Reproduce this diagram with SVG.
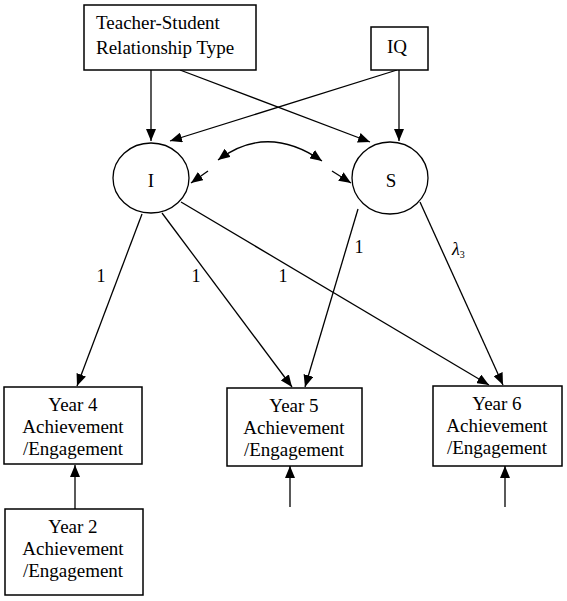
<svg xmlns="http://www.w3.org/2000/svg" width="567" height="601" viewBox="0 0 567 601">
<defs>
<marker id="ah" viewBox="0 0 12 10" refX="12" refY="5" markerWidth="12" markerHeight="10" markerUnits="userSpaceOnUse" orient="auto-start-reverse">
<path d="M0,0 L12,5 L0,10 Z" fill="#000"/>
</marker>
<style>
.box{fill:#fff;stroke:#000;stroke-width:1.5}
.lat{fill:#fff;stroke:#000;stroke-width:1.3}
.t{font-family:"Liberation Serif","Times New Roman",serif;font-size:19px;fill:#000}
.c{text-anchor:middle}
.l{font-family:"Liberation Serif","Times New Roman",serif;font-size:18px;fill:#000}
.e{fill:none;stroke:#000;stroke-width:1.3;marker-end:url(#ah)}
</style>
</defs>
<rect width="567" height="601" fill="#fff"/>
<g id="connectors">
<line class="e" x1="151" y1="70" x2="151" y2="141"/>
<line class="e" x1="180" y1="70" x2="370" y2="142"/>
<line class="e" x1="397" y1="70" x2="170" y2="141"/>
<line class="e" x1="399" y1="70" x2="399" y2="141"/>
<path class="e" d="M218,160 Q267,123 322,161" marker-start="url(#ah)"/>
<line class="e" x1="208" y1="171" x2="191" y2="183"/>
<line class="e" x1="332" y1="171" x2="351" y2="183"/>
<line class="e" x1="142" y1="214" x2="77" y2="386"/>
<line class="e" x1="162" y1="213" x2="292" y2="387"/>
<line class="e" x1="181" y1="202" x2="489" y2="385"/>
<line class="e" x1="358" y1="209" x2="305" y2="387"/>
<line class="e" x1="420" y1="202" x2="503" y2="385"/>
<line class="e" x1="75" y1="509" x2="75" y2="465"/>
<line class="e" x1="290" y1="507" x2="290" y2="466"/>
<line class="e" x1="505" y1="507" x2="505" y2="466"/>
<text class="l c" x="101" y="282">1</text>
<text class="l c" x="196" y="282">1</text>
<text class="l c" x="283" y="282">1</text>
<text class="l c" x="359" y="253">1</text>
<text class="l" x="452" y="255" font-style="italic">λ<tspan font-size="10" dy="3" font-style="normal">3</tspan></text>
</g>
<g id="teacher">
<rect class="box" x="84" y="5" width="172" height="65"/>
<text class="t" x="96" y="29">Teacher-Student</text>
<text class="t" x="96" y="54">Relationship Type</text>
</g>
<g id="iq">
<rect class="box" x="371" y="27" width="57" height="43"/>
<text class="t c" x="397" y="53">IQ</text>
</g>
<g id="I">
<ellipse class="lat" cx="151" cy="178" rx="38" ry="35"/>
<text class="t c" x="151" y="187">I</text>
</g>
<g id="S">
<ellipse class="lat" cx="390" cy="178" rx="38" ry="36"/>
<text class="t c" x="391" y="187">S</text>
</g>
<g id="year4">
<rect class="box" x="4" y="387" width="138" height="77"/>
<text class="t c" x="73" y="411">Year 4</text>
<text class="t c" x="73" y="433">Achievement</text>
<text class="t c" x="73" y="455">/Engagement</text>
</g>
<g id="year5">
<rect class="box" x="227" y="388" width="135" height="78"/>
<text class="t c" x="294" y="412">Year 5</text>
<text class="t c" x="294" y="434">Achievement</text>
<text class="t c" x="294" y="456">/Engagement</text>
</g>
<g id="year6">
<rect class="box" x="433" y="386" width="129" height="80"/>
<text class="t c" x="497" y="410">Year 6</text>
<text class="t c" x="497" y="432">Achievement</text>
<text class="t c" x="497" y="454">/Engagement</text>
</g>
<g id="year2">
<rect class="box" x="5" y="509" width="138" height="86"/>
<text class="t c" x="73" y="533">Year 2</text>
<text class="t c" x="73" y="555">Achievement</text>
<text class="t c" x="73" y="577">/Engagement</text>
</g>
</svg>
